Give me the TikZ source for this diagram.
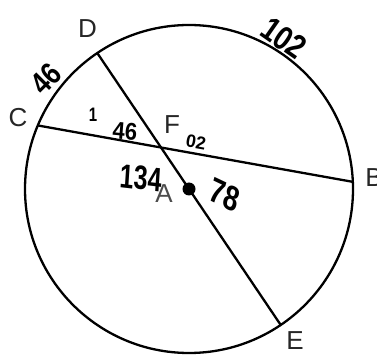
\documentclass[tikz,border=0pt]{standalone}
\usepackage{fontspec}
\setmainfont{Liberation Sans}
\usetikzlibrary{calc}
\begin{document}
\begin{tikzpicture}[x=1pt,y=1pt,
  lbl/.style={inner sep=0pt,font=\fontsize{26}{26}\selectfont,text=black!85},
  hand/.style={inner sep=0pt,font=\fontsize{26}{26}\selectfont\bfseries},
  geo/.style={line width=2.3pt}]
\useasboundingbox (0,0) rectangle (377,356);
\begin{scope}
\clip (0,0) rectangle (377,356);
\coordinate (A) at (189,167);
\coordinate (D) at ($(A)+(124:164pt)$);
\coordinate (E) at ($(A)+(-56:164pt)$);
\coordinate (C) at ($(A)+(157.2:164pt)$);
\coordinate (B) at ($(A)+(2.5:164pt)$);
\draw[geo] (A) circle[radius=164pt];
\draw[geo] (D) -- (E);
\draw[geo] (C) -- (B);
\fill (A) circle[radius=6.5pt];
\node[lbl] (lD) at (87.5,327) {D};
\node[lbl] (lC) at (18,238) {C};
\node[lbl] (lB) at (374,178) {B};
\node[lbl] (lE) at (295,15) {E};
\node[lbl,text=black!70] (lA) at (164,162) {A};
\node[lbl] (lF) at (172,231) {F};
\node[hand,rotate=45,yscale=1.2] (n46) at (46,277) {46};
\node[hand,font=\fontsize{28}{28}\selectfont\bfseries,rotate=-35,yscale=1.2] (n102) at (284,318) {102};
\node[hand,font=\fontsize{15}{15}\selectfont\bfseries,yscale=1.3] (n1) at (93,241) {1};
\node[hand,font=\fontsize{22}{22}\selectfont\bfseries,yscale=1.1,rotate=-5] (n146) at (125,225) {46};
\node[hand,font=\fontsize{18}{18}\selectfont\bfseries,rotate=-10] (n02) at (196,214) {02};
\node[hand,font=\fontsize{25}{25}\selectfont\bfseries,yscale=1.35,rotate=-5] (n134) at (141,178) {134};
\node[hand,font=\fontsize{27}{27}\selectfont\bfseries,yscale=1.3,rotate=-20] (n78) at (225,161) {78};
\end{scope}
\end{tikzpicture}
\end{document}
